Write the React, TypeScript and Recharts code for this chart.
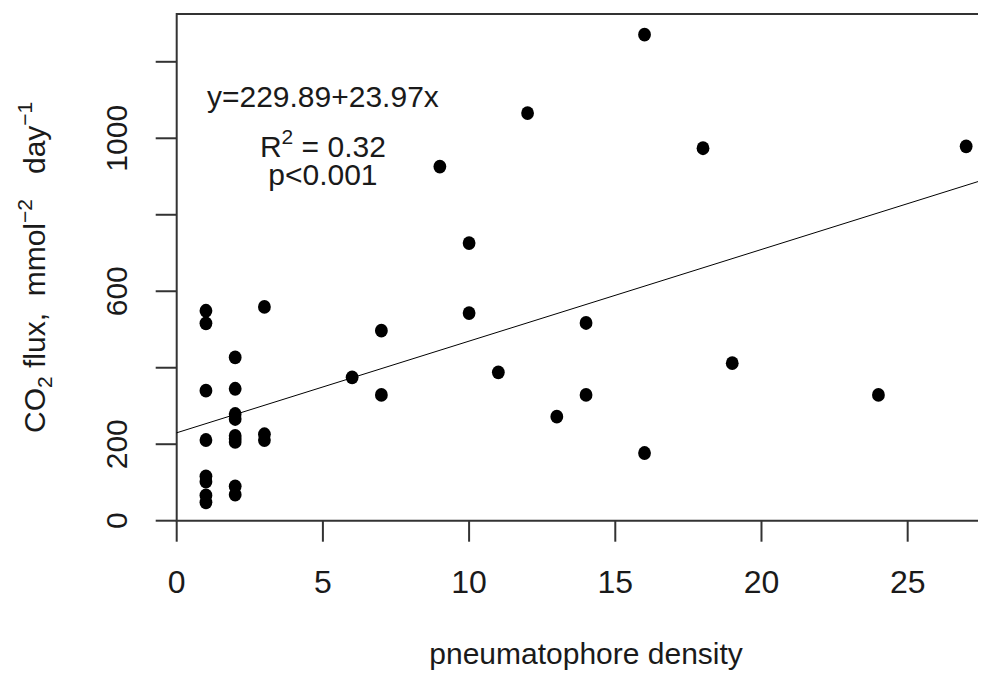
import { ScatterChart, Scatter, XAxis, YAxis, ReferenceLine, ReferenceArea, ReferenceDot, Label } from 'recharts'

// pneumatophore density (x) and CO2 flux (y)
const density = [
  1, 1, 1, 1, 1, 1, 1, 1,
  2, 2, 2, 2, 2, 2, 2, 2, 2,
  3, 3, 3,
  6, 7, 7, 9, 10, 10, 11, 12, 13, 14, 14, 16, 16, 18, 19, 24, 27,
]
const flux = [
  549, 516, 340, 211, 116, 102, 66, 48,
  427, 345, 279, 266, 222, 214, 206, 90, 68,
  559, 226, 211,
  375, 497, 329, 926, 726, 543, 388, 1066, 272, 517, 329, 1271, 177, 974, 412, 329, 979,
]

const xTicks = [0, 5, 10, 15, 20, 25]
const yTicks = [0, 200, 400, 600, 800, 1000, 1200]
// R drops the labels that would overlap
const yTickLabels = [0, 200, 600, 1000]

const xDomain = [0, 28]
const yDomain = [0, 1325]

const intercept = 229.89
const slope = 23.97

// annotation block, placed in data coordinates
const noteX = 5
const noteY = [1110, 980, 905]

const points = density.map((x, i) => ({ x, y: flux[i] }))

const FONT = '"Liberation Sans", Arial, sans-serif'
const INK = '#1a1a1a'
const LINE = '#333'

const Dot = ({ cx, cy }: any) => <ellipse cx={cx} cy={cy} rx={6.4} ry={6.9} fill="#000" />

const XTick = ({ x, y, payload }: any) => (
  <text x={x} y={y + 49} textAnchor="middle" fontSize={32} fontFamily={FONT} fill={INK}>
    {payload.value}
  </text>
)

const YTick = ({ x, y, payload }: any) => {
  if (!yTickLabels.includes(payload.value)) return null
  const bx = x - 27
  return (
    <text x={bx} y={y} transform={`rotate(-90, ${bx}, ${y})`} textAnchor="middle" fontSize={30} fontFamily={FONT} fill={INK}>
      {payload.value}
    </text>
  )
}

const XTitle = ({ viewBox }: any) => (
  <text x={viewBox.x + viewBox.width / 2} y={viewBox.y + 143} textAnchor="middle" fontSize={30} fontFamily={FONT} fill={INK}>
    pneumatophore density
  </text>
)

const YTitle = ({ viewBox }: any) => {
  const bx = viewBox.x + viewBox.width - 131.7
  const by = viewBox.y + viewBox.height / 2
  return (
    <text x={bx} y={by} transform={`rotate(-90, ${bx}, ${by})`} textAnchor="middle" fontSize={30} fontFamily={FONT} fill={INK}>
      CO<tspan fontSize={21} dy={7}>2</tspan>
      <tspan dy={-7}>{' flux,\u00a0 mmol'}</tspan>
      <tspan fontSize={21} dy={-13}>−2</tspan>
      <tspan dy={13}>{'\u00a0\u00a0 day'}</tspan>
      <tspan fontSize={21} dy={-13}>−1</tspan>
    </text>
  )
}

const note = (lines: number) => ({ cx, cy }: any) => {
  const y = cy + 10.7
  if (lines === 0) {
    return <text x={cx} y={y} textAnchor="middle" fontSize={30} fontFamily={FONT} fill={INK}>y=229.89+23.97x</text>
  }
  if (lines === 1) {
    return (
      <text x={cx} y={y} textAnchor="middle" fontSize={30} fontFamily={FONT} fill={INK}>
        R<tspan fontSize={21} dy={-13}>2</tspan>
        <tspan dy={13}> = 0.32</tspan>
      </text>
    )
  }
  return <text x={cx} y={y} textAnchor="middle" fontSize={30} fontFamily={FONT} fill={INK}>p&lt;0.001</text>
}

export default function App() {
  return (
    <div style={{ width: 978, height: 665, overflow: 'hidden' }}>
      <ScatterChart width={1000} height={665} margin={{ top: 6, right: 12.6, bottom: 122.3, left: 138.7 }}>
        <XAxis
          type="number"
          dataKey="x"
          domain={xDomain}
          ticks={xTicks}
          height={30}
          axisLine={false}
          tickSize={21}
          tickLine={{ stroke: LINE, strokeWidth: 2 }}
          tick={<XTick />}
        >
          <Label content={<XTitle />} />
        </XAxis>
        <YAxis
          type="number"
          dataKey="y"
          domain={yDomain}
          ticks={yTicks}
          width={30}
          axisLine={false}
          tickSize={21}
          tickLine={{ stroke: LINE, strokeWidth: 2 }}
          tick={<YTick />}
        >
          <Label content={<YTitle />} />
        </YAxis>
        <ReferenceArea x1={xDomain[0]} x2={xDomain[1]} y1={yDomain[0]} y2={yDomain[1]} fill="none" fillOpacity={0} stroke={LINE} strokeWidth={2} />
        <ReferenceLine
          segment={[{ x: xDomain[0], y: intercept }, { x: xDomain[1], y: intercept + slope * xDomain[1] }]}
          stroke="#000"
          strokeWidth={1}
        />
        {noteY.map((ny, i) => (
          <ReferenceDot key={i} x={noteX} y={ny} r={1} shape={note(i)} />
        ))}
        <Scatter data={points} fill="#000" shape={<Dot />} isAnimationActive={false} />
      </ScatterChart>
    </div>
  )
}
